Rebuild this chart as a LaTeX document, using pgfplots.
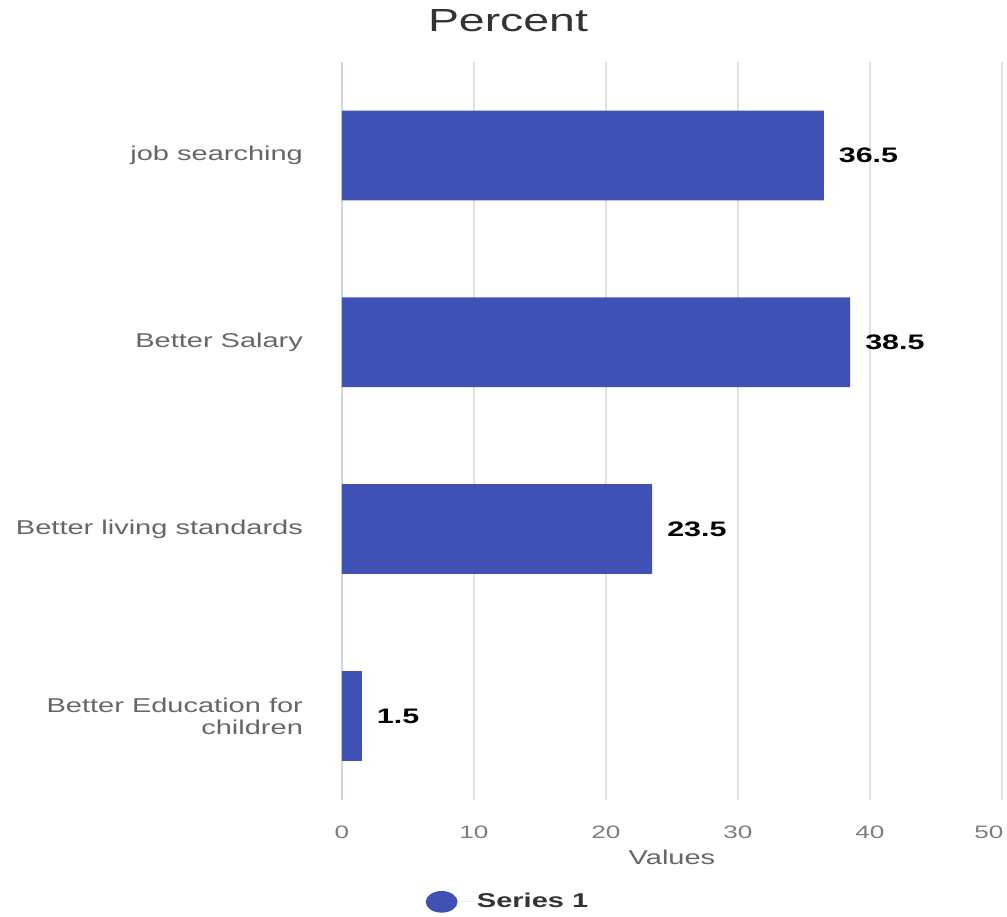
\documentclass[border=0pt]{standalone}
\usepackage{fontspec}
\setmainfont{Liberation Sans}[FakeStretch=1.45]
\usepackage{pgfplots}
\pgfplotsset{compat=1.18}
\definecolor{barcol}{RGB}{63,81,181}
\definecolor{gridcol}{RGB}{226,226,226}
\definecolor{zerocol}{RGB}{204,214,235}
\definecolor{labcol}{RGB}{102,102,102}
\definecolor{titcol}{RGB}{51,51,51}
\begin{document}
\begin{tikzpicture}
\useasboundingbox (-171pt,-58pt) rectangle (332.5pt,400pt);
\begin{axis}[
  scale only axis,
  width=330pt, height=369pt,
  xmin=0, xmax=50, ymin=-0.45, ymax=3.5,
  xtick={0,10,20,30,40,50},
  xticklabels={0,10,20,30,40,{\makebox[0pt]{50\hspace*{13pt}}}},
  ytick={0,1,2,3},
  yticklabels={{Better Education for\\children},{Better living standards},{Better Salary},{job searching}},
  yticklabel style={align=right, font=\fontsize{10}{11}\selectfont, text=labcol, xshift=-16pt},
  xticklabel style={font=\fontsize{9}{10}\selectfont, text=labcol!85, yshift=-9.5pt},
  /pgf/number format/assume math mode=true,
  major tick length=0pt,
  axis line style={draw=none},
  xmajorgrids, grid style={color=gridcol, line width=0.8pt},
  xlabel={Values},
  xlabel style={font=\fontsize{10}{11}\selectfont, text=labcol, yshift=1.5pt},
  title={Percent},
  title style={at={(0.2515,1.04)}, anchor=center, font=\fontsize{16}{18}\selectfont, text=titcol},
  clip=false,
  legend style={at={(0.253,-0.138)}, anchor=center, draw=none, fill=none, font=\bfseries\fontsize{10}{11}\selectfont, text=titcol},
  legend image code/.code={\fill[barcol] (0cm,0cm) ellipse (0.28cm and 0.19cm); \path (0.28cm,0cm) -- ++(7.7pt,0pt);},
]
\draw[zerocol, line width=1pt] (axis cs:0,-0.45) -- (axis cs:0,3.5);
\addplot[xbar, fill=barcol, draw=none, bar width=0.48,
  nodes near coords,
  every node near coord/.append style={font=\bfseries\fontsize{10.5}{12}\selectfont, text=black, anchor=west, xshift=4pt},
  point meta=explicit symbolic]
  coordinates {(36.5,3) [36.5] (38.5,2) [38.5] (23.5,1) [23.5] (1.5,0) [1.5]};
\addlegendentry{Series 1}
\end{axis}
\end{tikzpicture}
\end{document}
